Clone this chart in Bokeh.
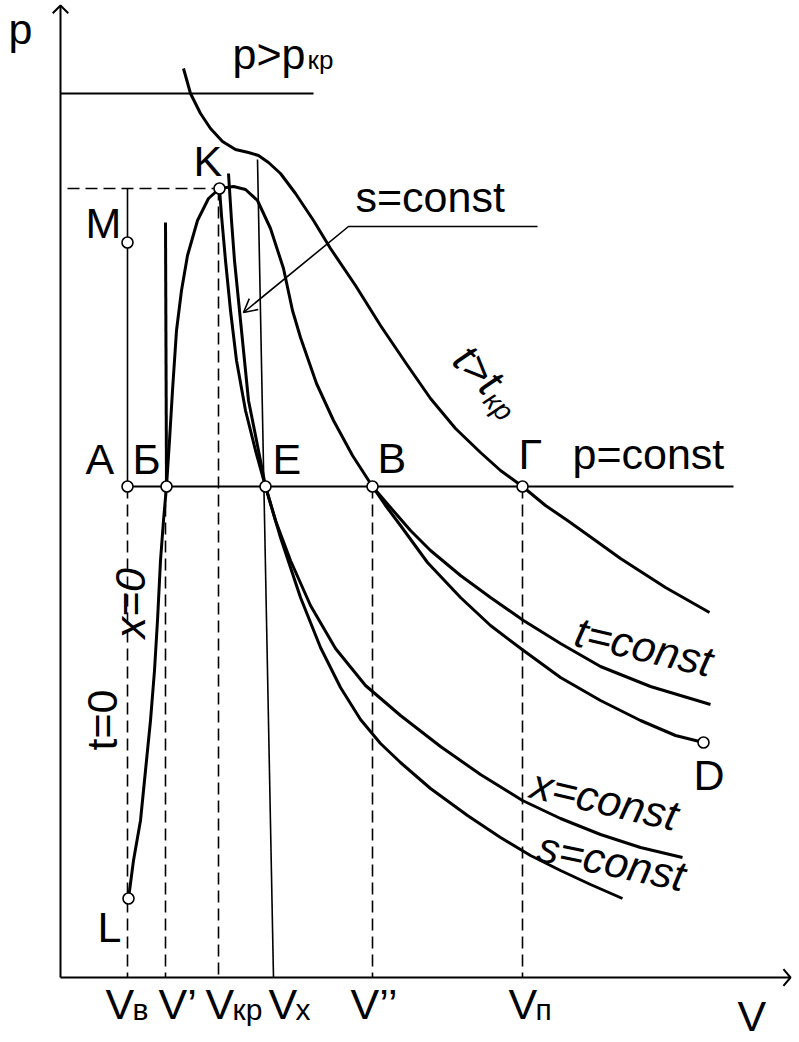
import math
from bokeh.plotting import figure
from bokeh.models import Range1d
from bokeh.core.properties import value
from bokeh.embed import file_html
from bokeh.resources import INLINE

# ---------------- data (V, p in drawing units) ----------------
# supercritical isotherm t > t_kr
tsc_V = [123, 130, 140, 150, 162, 175, 188, 198, 208, 220, 235, 253, 270, 295, 320, 345, 370, 395, 420, 440, 462, 485, 507, 535, 560, 605, 649]
tsc_p = [909, 884, 864, 849, 836, 828, 825, 822, 815, 804, 784, 757, 729, 692, 652, 615, 579, 549, 525, 507, 491, 472, 457, 437, 419, 390, 365]
# saturation dome x=0 .. K .. x=1 (from Б to B)
dome_V = [106, 109, 112, 116, 121, 127, 137, 148, 159, 173, 185, 197, 210, 223, 232, 240, 256, 273, 292, 312]
dome_p = [491, 537, 587, 647, 687, 722, 757, 779, 789, 791, 788, 777, 749, 709, 667, 640, 594, 557, 522, 491]
# x = 1 continued beyond B down to D
x1_V = [312, 325, 340, 367, 400, 430, 463, 500, 540, 580, 615, 643]
x1_p = [491, 472, 452, 415, 380, 352, 327, 300, 277, 257, 242, 235]
# isotherm t = const beyond B
tc_V = [312, 330, 350, 370, 400, 430, 463, 500, 540, 590, 650]
tc_p = [491, 470, 447, 427, 402, 380, 357, 334, 311, 291, 273]
# x = const line (from K through E)
xc_V = [159, 161, 165, 170, 176, 185, 195, 205, 215, 230, 250, 275, 305, 340, 380, 420, 462, 500, 540, 580, 622]
xc_p = [789, 762, 717, 667, 617, 567, 527, 491, 457, 417, 372, 329, 292, 262, 231, 203, 177, 159, 143, 130, 120]
# adiabat s = const (through E)
sc_V = [168, 171, 174, 178, 182, 188, 196, 205, 220, 240, 260, 280, 300, 320, 340, 370, 407, 440, 470, 500, 530, 562]
sc_p = [804, 757, 717, 677, 637, 577, 537, 491, 440, 380, 330, 290, 258, 234, 215, 189, 162, 140, 122, 107, 93, 79]
# liquid line from L to Б (t = 0 / x = 0)
liq_V = [68, 73, 80, 85, 90, 94, 97, 100, 103, 106]
liq_p = [79, 117, 157, 207, 257, 307, 357, 417, 457, 491]
# compressed-liquid isotherm above Б
cl_V = [105, 106]
cl_p = [755, 491]
# V_x line
vx_V = [197, 213]
vx_p = [818, 0]

# levels
p_high = 884          # p > p_kr
p_sat = 491           # p = const
p_kr = 789            # critical pressure
V_high = [0, 253]
V_sat = [67, 673]
V_kr_dash = [7, 159]

# characteristic volumes (dashed drops)
V_B = 67; V_1 = 105; V_kr = 158; V_2 = 312; V_P = 462
M_line_V = 67

# points
pt_names = ["A", "Б", "E", "B", "Γ", "K", "M", "L", "D"]
pt_V = [67, 106, 205, 312, 462, 159, 67, 68, 643]
pt_p = [491, 491, 491, 491, 491, 789, 735, 79, 235]

# pointer to s=const
ptr_V = [477, 288, 183]
ptr_p = [751, 751, 665]

# axes extents
V_max = 730
p_max = 972

# point labels (baseline-left positions)
lab_text = ["A", "Б", "E", "B", "Γ", "p=const", "K", "M", "s=const", "D", "L", "p"]
lab_V = [25, 72, 212, 317, 458, 512, 133, 25, 295, 633, 37, -52]
lab_p = [503, 503, 503, 504, 508, 508, 801, 739, 765, 187, 35, 933]

# V axis tick labels
tick_main = ["V", "V’", "V", "V", "V’’", "V"]
tick_main_V = [45, 98, 145, 208, 290, 448]
tick_sub = ["в", "кр", "x", "п"]
tick_sub_V = [72, 172, 235, 475]
tick_p = -42

# ---------------- figure ----------------
FONT = value("Liberation Sans")
BIG = 43
SMALL = 30

p = figure(width=797, height=1040, x_range=Range1d(-60, 737), y_range=Range1d(-63, 977),
           output_backend="svg", toolbar_location=None, x_axis_type=None, y_axis_type=None,
           min_border=0)
p.grid.visible = False
p.outline_line_color = None
p.background_fill_color = "white"
p.border_fill_color = "white"

K = "black"

def head(tipV, tipP, dV, dP, length, half_deg):
    n = math.hypot(dV, dP)
    bx, by = -dV / n, -dP / n
    xs, ys = [], []
    for s in (1, -1):
        a = math.radians(half_deg) * s
        rx = bx * math.cos(a) - by * math.sin(a)
        ry = bx * math.sin(a) + by * math.cos(a)
        xs.append(tipV + length * rx)
        ys.append(tipP + length * ry)
    return [xs[0], tipV, xs[1]], [ys[0], tipP, ys[1]]

def label(Vs, ps, texts, size, angle=0.0, italic=False):
    # text is drawn about 0.35 em below its anchor; compensate along the text's up direction
    k = 0.35 * size
    a = math.radians(angle)
    dV, dP = -math.sin(a) * k, math.cos(a) * k
    p.text([v + dV for v in Vs], [q + dP for q in ps], text=texts,
           angle=[angle] * len(texts), angle_units="deg", text_font=FONT,
           text_font_size=f"{size}px", text_font_style="italic" if italic else "normal",
           text_baseline="alphabetic", text_align="left", text_color=K)

# axes
p.line([0, 0], [0, p_max], line_color=K, line_width=2)
p.line([0, V_max], [0, 0], line_color=K, line_width=2)
hx, hy = head(0, p_max, 0, 1, 11, 45)
p.line(hx, hy, line_color=K, line_width=2)
hx, hy = head(V_max, 0, 1, 0, 11, 50)
p.line(hx, hy, line_color=K, line_width=2)

# thin solid lines
p.line(V_high, [p_high, p_high], line_color=K, line_width=1.8)
p.line(V_sat, [p_sat, p_sat], line_color=K, line_width=1.8)
p.line([M_line_V, M_line_V], [p_kr, p_sat], line_color=K, line_width=1.6)
p.line(vx_V, vx_p, line_color=K, line_width=1.6)

# dashed lines
DASH = "12 6"
p.line(V_kr_dash, [p_kr, p_kr], line_color=K, line_width=1.6, line_dash=DASH)
for v, top in ((V_B, p_sat), (V_1, p_sat), (V_kr, p_kr), (V_2, p_sat), (V_P, p_sat)):
    p.line([v, v], [top, 0], line_color=K, line_width=1.6, line_dash=DASH)

# thick curves
for xs, ys in ((tsc_V, tsc_p), (dome_V, dome_p), (x1_V, x1_p), (tc_V, tc_p),
               (xc_V, xc_p), (sc_V, sc_p), (liq_V, liq_p), (cl_V, cl_p)):
    p.line(xs, ys, line_color=K, line_width=3, line_join="round")

# pointer with open arrow head
p.line(ptr_V, ptr_p, line_color=K, line_width=1.6)
hx, hy = head(ptr_V[2], ptr_p[2], ptr_V[2] - ptr_V[1], ptr_p[2] - ptr_p[1], 15, 28)
p.line(hx, hy, line_color=K, line_width=1.6)

# points
p.scatter(pt_V, pt_p, marker="circle", size=11, fill_color="white", line_color=K, line_width=1.6)

# labels
label(lab_V, lab_p, lab_text, BIG)
label([172], [908], ["p>p"], BIG)
label([247], [908], ["кр"], 26)
label([512], [332], ["t=const"], BIG, -13, True)
label([468], [180], ["x=const"], BIG, -13, True)
label([475], [117], ["s=const"], BIG, -12, True)
label([390], [615], ["t>t"], BIG, -45, True)
label([421], [575], ["кр"], 28, -45, True)
label([85], [339], ["x=0"], BIG, 90, True)
label([57], [227], ["t=0"], BIG, 90)

# V axis labels
label(tick_main_V, [tick_p] * len(tick_main_V), tick_main, BIG)
label(tick_sub_V, [tick_p] * len(tick_sub_V), tick_sub, SMALL)
label([677], [-54], ["V"], BIG)

open("out.html", "w").write(file_html(p, INLINE))
